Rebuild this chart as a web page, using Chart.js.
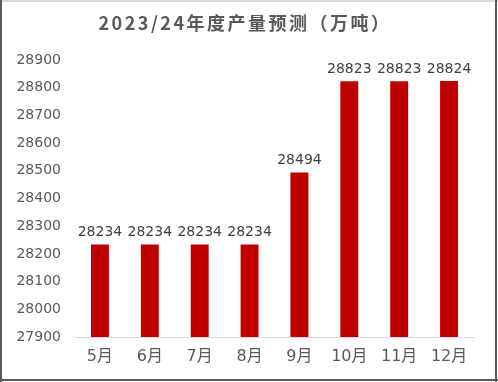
<!DOCTYPE html>
<html>
<head>
<meta charset="utf-8">
<script src="https://cdn.jsdelivr.net/npm/chart.js@4"></script>
<style>
html,body{margin:0;padding:0;background:#fff;}
#wrap{width:498px;height:382px;position:relative;}
</style>
</head>
<body>
<div id="wrap"><canvas id="c" width="498" height="382"></canvas></div>
<script>
const titleText = '2023/24年度产量预测（万吨）';
const categories = ['5月','6月','7月','8月','9月','10月','11月','12月'];
const production = [28234, 28234, 28234, 28234, 28494, 28823, 28823, 28824];
const yMin = 27900, yMax = 28900, yStep = 100;

const tickFont = "14px 'DejaVu Sans'";

const framePlugin = {
  id: 'frame',
  beforeDraw(chart) {
    const ctx = chart.ctx;
    ctx.save();
    ctx.fillStyle = '#ffffff';
    ctx.fillRect(0, 0, chart.width, chart.height);
    ctx.restore();
  },
  afterDraw(chart) {
    const ctx = chart.ctx;
    ctx.save();
    // border
    ctx.fillStyle = '#d9d9d9';
    ctx.fillRect(0, 0, chart.width, 2);
    ctx.fillStyle = '#595959';
    ctx.fillRect(0, 0, 2, chart.height);
    ctx.fillRect(chart.width - 3, 0, 2, chart.height);
    ctx.fillRect(0, chart.height - 3, chart.width, 2);
    // title
    ctx.fillStyle = '#595959';
    ctx.font = "bold 18px 'Noto Sans CJK SC'";
    ctx.letterSpacing = '2.5px';
    ctx.textAlign = 'center';
    ctx.textBaseline = 'middle';
    ctx.fillText(titleText, 245, 23);
    ctx.letterSpacing = '0px';
    // data labels
    const meta = chart.getDatasetMeta(0);
    ctx.font = tickFont;
    ctx.fillStyle = '#404040';
    ctx.textBaseline = 'bottom';
    meta.data.forEach((bar, i) => {
      ctx.fillText(String(production[i]), bar.x, bar.y - 5);
    });
    ctx.restore();
  }
};

new Chart(document.getElementById('c'), {
  type: 'bar',
  data: {
    labels: categories,
    datasets: [{
      data: production,
      backgroundColor: '#c00000',
      borderWidth: 0,
      barPercentage: 0.72,
      categoryPercentage: 0.5
    }]
  },
  options: {
    responsive: false,
    animation: false,
    devicePixelRatio: 1,
    layout: { padding: { top: 60, right: 24, left: 0, bottom: 0 } },
    plugins: { legend: { display: false }, tooltip: { enabled: false }, title: { display: false } },
    scales: {
      x: {
        grid: { display: false, drawTicks: false },
        border: { display: true, color: '#d9d9d9', width: 1 },
        ticks: { color: '#595959', font: { family: "'DejaVu Sans', 'Noto Sans CJK SC'", size: 16 }, padding: 10 },
        afterFit(scale) { scale.height = 45; }
      },
      y: {
        min: yMin, max: yMax,
        grid: { display: false, drawTicks: false },
        border: { display: false },
        ticks: {
          stepSize: yStep, color: '#595959',
          font: { family: 'DejaVu Sans', size: 14 }, padding: 14,
          callback: (v) => String(v)
        },
        afterFit(scale) { scale.width = 75; }
      }
    }
  },
  plugins: [framePlugin]
});
</script>
</body>
</html>
